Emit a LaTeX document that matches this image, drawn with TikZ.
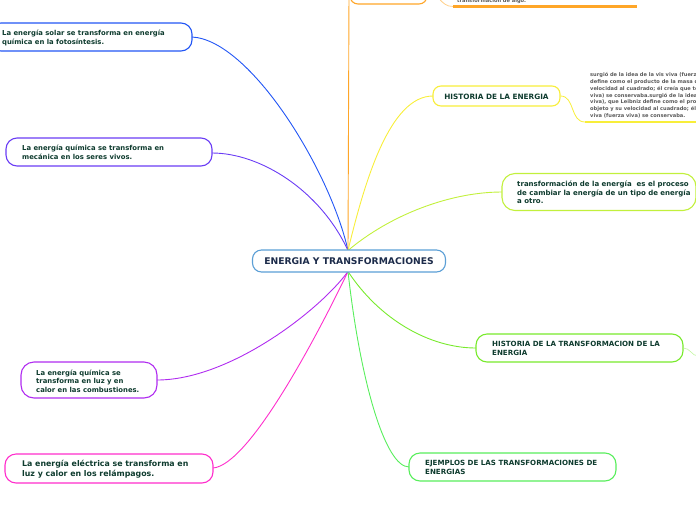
\documentclass[tikz,border=0pt]{standalone}
\usepackage{fontspec}
\setmainfont{DejaVu Sans}
\definecolor{cblue}{HTML}{2256F5}
\definecolor{cindigo}{HTML}{6A3CF5}
\definecolor{cpurple}{HTML}{B02CF0}
\definecolor{cmagenta}{HTML}{FF2ECC}
\definecolor{cyellow}{HTML}{F8EE3A}
\definecolor{cyelgreen}{HTML}{C2F03C}
\definecolor{cgreen}{HTML}{78EA2C}
\definecolor{cgreen2}{HTML}{58EE5C}
\definecolor{corange}{HTML}{FFA628}
\definecolor{corangel}{HTML}{FFD08A}
\definecolor{ccenter}{HTML}{5B9FD6}
\definecolor{ctext}{HTML}{0E3B2E}
\definecolor{ctitle}{HTML}{1C2B4A}
\definecolor{cgray}{HTML}{5A5A5A}
\tikzset{
  box/.style={draw, fill=white, rounded corners=11pt, line width=1.1pt, inner sep=0pt},
  btxt/.style={anchor=west, align=left, inner sep=0pt, text=ctext, font=\bfseries\fontsize{6.85}{9}\selectfont},
  conn/.style={line width=0.9pt},
}
\begin{document}
\begin{tikzpicture}[x=1pt,y=-1pt]
\useasboundingbox (0,0) rectangle (696,520);

\coordinate (ctop) at (348,250.5);
\coordinate (cbot) at (348,271.5);

% connectors
\draw[conn, cblue] (ctop) .. controls (330,170) and (250,40) .. (192,37);
\draw[conn, cindigo] (ctop) .. controls (320,190) and (260,153) .. (212,153);
\draw[conn, cpurple] (cbot) .. controls (320,310) and (230,380) .. (157,380);
\draw[conn, cmagenta] (cbot) .. controls (320,330) and (250,465) .. (213,468);
\coordinate (otop) at (349,-8);
\draw[conn, corange] (ctop) -- (otop);
\draw[conn, cyellow] (ctop) .. controls (365,180) and (390,96) .. (433,96);
\draw[conn, cyelgreen] (ctop) .. controls (390,215) and (450,192) .. (502,192);
\draw[conn, cgreen] (cbot) .. controls (380,320) and (430,348) .. (476,348);
\draw[conn, cgreen2] (cbot) .. controls (360,380) and (385,467) .. (409,467);

% center
\node[box, draw=ccenter, minimum width=193pt, minimum height=22pt, rounded corners=9pt] (c) at (349,261) {};
\node[inner sep=0pt, text=ctitle, font=\bfseries\fontsize{9.2}{10}\selectfont] (ct) at (349,261) {ENERGIA Y TRANSFORMACIONES};

% blue
\node[box, draw=cblue, minimum width=202pt, minimum height=28pt] (n1) at (91,37) {};
\node[btxt] (t1) at (2,37.5) {La energía solar se transforma en energía\\química en la fotosíntesis.};

% indigo
\node[box, draw=cindigo, minimum width=206pt, minimum height=28pt] (n2) at (109,152) {};
\node[btxt] (t2) at (22,152.5) {La energía química se transforma en\\mecánica en los seres vivos.};

% purple
\node[box, draw=cpurple, minimum width=136pt, minimum height=36pt, rounded corners=13pt] (n3) at (89,380) {};
\node[btxt, font=\bfseries\fontsize{6.85}{8.4}\selectfont] (t3) at (36,381) {La energía química se\\transforma en luz y en\\calor en las combustiones.};

% magenta
\node[box, draw=cmagenta, minimum width=208pt, minimum height=29pt] (n4) at (109,468.5) {};
\node[btxt, font=\bfseries\fontsize{7.85}{10}\selectfont] (t4) at (22,469) {La energía eléctrica se transforma en\\luz y calor en los relámpagos.};

% yellow
\node[box, draw=cyellow, minimum width=127pt, minimum height=20pt, rounded corners=8pt] (n5) at (496.5,96) {};
\node[inner sep=0pt, text=ctext, font=\bfseries\fontsize{7.3}{8}\selectfont] (t5) at (496.5,96.5) {HISTORIA DE LA ENERGIA};
\coordinate (yl) at (585,122);
\coordinate (yr) at (700,122);
\draw[line width=0.8pt, cyellow] (n5.east) .. controls (575,96) and (570,122) .. (yl);
\draw[line width=2pt, cyellow] (yl) -- (yr);
\node[anchor=north west, align=left, inner sep=0pt, text=cgray, font=\bfseries\fontsize{5.1}{6.75}\selectfont] (g1) at (590,72.5) {surgió de la idea de la vis viva (fuerza viva), que Leibniz\\define como el producto de la masa de un objeto y su\\velocidad al cuadrado; él creía que total (vis\\viva) se conservaba.surgió de la idea de la vis viva (fuerza\\viva), que Leibniz define como el producto de la masa de un\\objeto y su velocidad al cuadrado; él creía que la vis\\viva (fuerza viva) se conservaba.};

% yellow-green
\node[box, draw=cyelgreen, minimum width=194pt, minimum height=37pt, rounded corners=13pt] (n6) at (599,192) {};
\node[btxt, font=\bfseries\fontsize{7.0}{8.6}\selectfont] (t6) at (517,192.5) {transformación de la energía~ es el proceso\\de cambiar la energía de un tipo de energía\\a otro.};

% green
\node[box, draw=cgreen, minimum width=207pt, minimum height=28pt] (n7) at (579.5,348) {};
\node[btxt, font=\bfseries\fontsize{7.1}{8.2}\selectfont] (t7) at (492,348.5) {HISTORIA DE LA TRANSFORMACION DE LA\\ENERGIA};
\coordinate (ge) at (698,356);
\draw[line width=0.6pt, cgreen!45] (n7.east) .. controls (690,348) and (692,356) .. (ge);

% green2
\node[box, draw=cgreen2, minimum width=207pt, minimum height=28pt] (n8) at (512.5,467) {};
\node[btxt, font=\bfseries\fontsize{7.1}{8.6}\selectfont] (t8) at (425,467.5) {EJEMPLOS DE LAS TRANSFORMACIONES DE\\ENERGIAS};

% orange (top, cut off)
\node[box, draw=corange, minimum width=77pt, minimum height=22pt, rounded corners=8pt] (n9) at (388.5,-7) {};
\coordinate (ol) at (453,6.5);
\coordinate (or) at (637,6.5);
\draw[line width=0.8pt, corangel] (n9.east) .. controls (440,-7) and (440,6.5) .. (ol);
\draw[line width=2.2pt, corange] (ol) -- (or);
\node[anchor=base west, inner sep=0pt, text=cgray, font=\bfseries\fontsize{5.1}{6.8}\selectfont] (g2) at (457,2.5) {transformación de algo.};
\end{tikzpicture}
\end{document}
